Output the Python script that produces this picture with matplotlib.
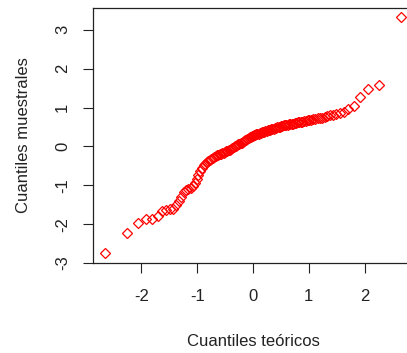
import numpy as np
import matplotlib.pyplot as plt
from statistics import NormalDist

# sorted sample values (n = 125)
muestra = [
    -2.74, -2.22, -1.98, -1.88, -1.88, -1.80, -1.67, -1.63, -1.62, -1.60,
    -1.52, -1.40, -1.30, -1.18, -1.12, -1.09, -1.07, -1.02, -0.93, -0.84,
    -0.74, -0.64, -0.55, -0.47, -0.44, -0.41, -0.38, -0.35, -0.32, -0.30,
    -0.27, -0.25, -0.23, -0.22, -0.20, -0.19, -0.17, -0.16, -0.14, -0.13,
    -0.11, -0.10, -0.08, -0.06, -0.04, -0.02, 0.00, 0.02, 0.03, 0.05,
    0.07, 0.09, 0.10, 0.12, 0.14, 0.16, 0.17, 0.19, 0.21, 0.23,
    0.24, 0.26, 0.28, 0.29, 0.30, 0.31, 0.32, 0.33, 0.34, 0.35,
    0.36, 0.37, 0.38, 0.39, 0.40, 0.41, 0.42, 0.43, 0.44, 0.45,
    0.46, 0.47, 0.48, 0.49, 0.50, 0.51, 0.52, 0.53, 0.54, 0.54,
    0.55, 0.56, 0.57, 0.58, 0.59, 0.59, 0.60, 0.61, 0.62, 0.63,
    0.63, 0.64, 0.65, 0.66, 0.67, 0.68, 0.69, 0.70, 0.71, 0.72,
    0.73, 0.74, 0.76, 0.78, 0.80, 0.82, 0.84, 0.85, 0.88, 0.97,
    1.03, 1.27, 1.48, 1.59, 3.32,
]
xticks = [-2, -1, 0, 1, 2]
yticks = [-3, -2, -1, 0, 1, 2, 3]

# theoretical quantiles as R's qqnorm does (ppoints, a = 0.5)
n = len(muestra)
p = (np.arange(1, n + 1) - 0.5) / n
teoricos = np.array([NormalDist().inv_cdf(v) for v in p])
muestra = np.array(muestra)

plt.rcParams['font.family'] = ['Liberation Sans', 'DejaVu Sans']

fig = plt.figure(figsize=(4.07, 3.53), dpi=100)
# axes box runs past the right edge of the picture, as in the original
ax = fig.add_axes([93 / 407, 90 / 353, 320 / 407, 255 / 353])
ax.plot(teoricos, muestra, linestyle='none', marker='D', ms=4.6,
        mfc='none', mec='#ff0000', mew=0.9)

def ext(lo, hi):
    d = (hi - lo) * 0.04
    return lo - d, hi + d

ax.set_xlim(*ext(teoricos.min(), teoricos.max()))
ax.set_ylim(*ext(muestra.min(), muestra.max()))
ax.set_xticks(xticks)
ax.set_yticks(yticks)
ax.set_xticklabels([str(t) for t in xticks])
ax.set_yticklabels([str(t) for t in yticks], rotation=90, va='center')
ax.tick_params(length=7.5, width=0.8, labelsize=12, color='#222222',
               labelcolor='#222222')
ax.tick_params(axis='x', pad=11)
ax.tick_params(axis='y', pad=9)
for s in ax.spines.values():
    s.set_linewidth(0.9)
    s.set_color('#222222')

ax.set_xlabel('Cuantiles teóricos', fontsize=12, labelpad=22, color='#222222')
ax.set_ylabel('Cuantiles muestrales', fontsize=12, labelpad=17, color='#222222')

fig.savefig('out.png', dpi=100)
plt.close(fig)
